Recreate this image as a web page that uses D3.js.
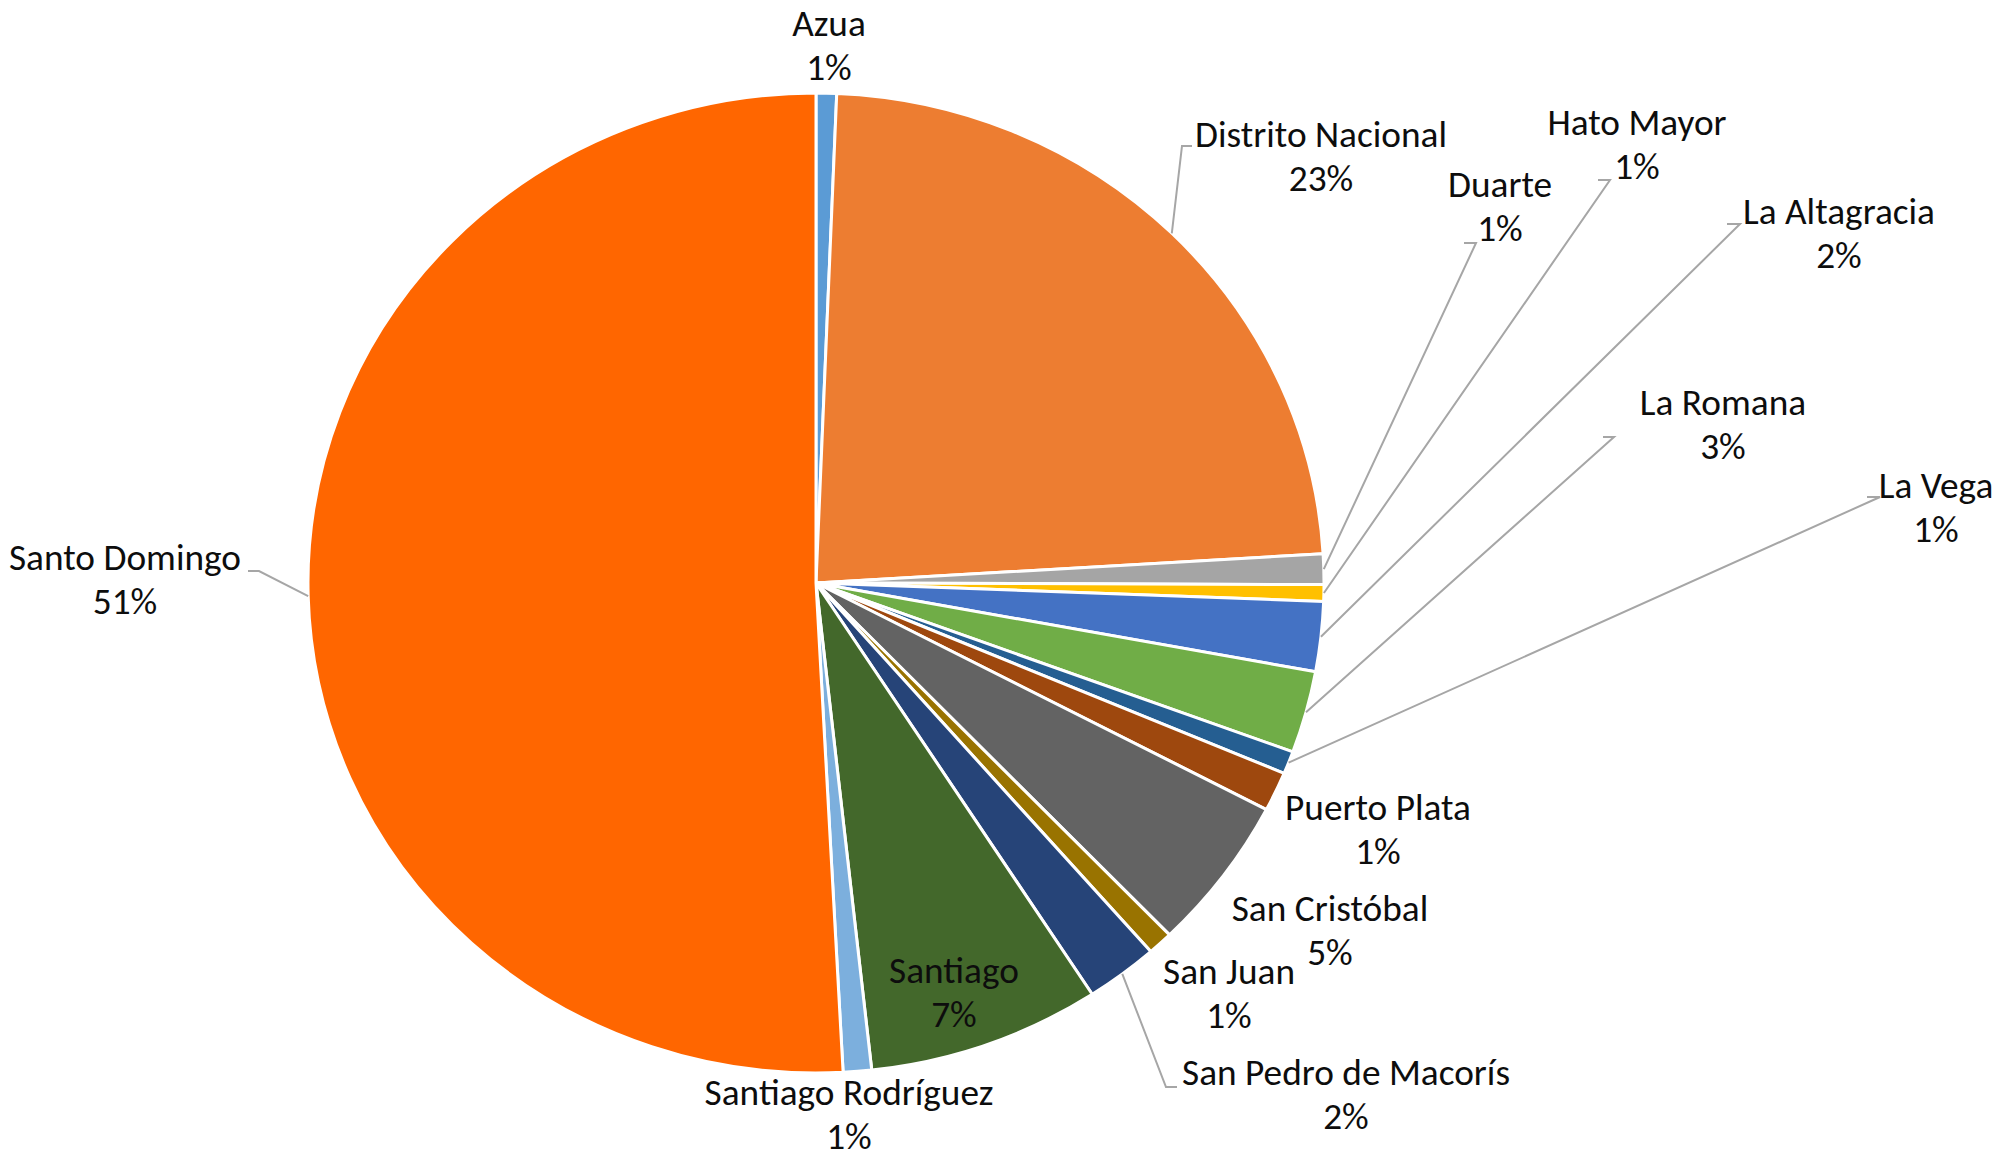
<!DOCTYPE html>
<html>
<head>
<meta charset="utf-8">
<script src="https://cdn.jsdelivr.net/npm/d3@7"></script>
<style>
  html, body { margin: 0; padding: 0; background: #ffffff; }
  svg { display: block; }
  text { font-family: Carlito, Lato, "Open Sans", sans-serif; fill: #0d0d0d; }
</style>
</head>
<body>
<svg id="chart" width="1997" height="1160"></svg>
<script>
// ---- data ----
const categories = ["Azua", "Distrito Nacional", "Duarte", "Hato Mayor", "La Altagracia",
  "La Romana", "La Vega", "Puerto Plata", "San Cristóbal", "San Juan",
  "San Pedro de Macorís", "Santiago", "Santiago Rodríguez", "Santo Domingo"];
const values = [0.65, 23.4, 1.0, 0.55, 2.3, 2.7, 0.75, 1.3, 5.1, 0.8, 2.3, 7.4, 0.9, 50.85];

// ---- styles ----
const colors = ["#5B9BD5", "#ED7D31", "#A5A5A5", "#FFC000", "#4472C4", "#70AD47", "#255E91",
  "#9E480E", "#636363", "#997300", "#264478", "#43682B", "#7CAFDD", "#FF6600"];

// ---- layout (label anchor x, first baseline y, leader elbow/end or null) ----
const labelLayout = [
  { x: 829, y: 36, leader: null },
  { x: 1321, y: 147, leader: [[1182, 146], [1192, 146]] },
  { x: 1500, y: 197, leader: [[1476, 243], [1464, 243]] },
  { x: 1637, y: 135, leader: [[1610, 180], [1598, 180]] },
  { x: 1839, y: 224, leader: [[1740, 224], [1727, 224]] },
  { x: 1723, y: 415, leader: [[1614, 437], [1603, 437]] },
  { x: 1936, y: 498, leader: [[1880, 497], [1867, 497]] },
  { x: 1378, y: 820, leader: null },
  { x: 1330, y: 921, leader: null },
  { x: 1229, y: 984, leader: null },
  { x: 1346, y: 1085, leader: [[1166, 1087], [1177, 1087]] },
  { x: 954, y: 983, leader: null },
  { x: 849, y: 1105, leader: null },
  { x: 125, y: 570, leader: [[259, 571], [248, 571]] }
];

const cx = 816, cy = 583, R = 490, sx = 508 / 490;
const lineGap = 44;
const fontSize = 36;

const svg = d3.select("#chart");
const total = d3.sum(values);

const pie = d3.pie().sort(null).value(d => d);
const arcs = pie(values);
const arc = d3.arc().innerRadius(0).outerRadius(R);

const g = svg.append("g").attr("transform", `translate(${cx},${cy}) scale(${sx},1)`);
g.selectAll("path.slice")
  .data(arcs)
  .join("path")
  .attr("class", "slice")
  .attr("d", arc)
  .attr("fill", (d, i) => colors[i])
  .attr("stroke", "#ffffff")
  .attr("stroke-width", 3)
  .attr("vector-effect", "non-scaling-stroke")
  .attr("stroke-linejoin", "round");

// leader lines
const edgePoint = a => {
  const m = (a.startAngle + a.endAngle) / 2;
  return [cx + sx * R * Math.sin(m), cy - R * Math.cos(m)];
};
const lineGen = d3.line();
arcs.forEach((a, i) => {
  const L = labelLayout[i];
  if (!L.leader) return;
  const pts = [edgePoint(a), ...L.leader];
  svg.append("path")
    .attr("d", lineGen(pts))
    .attr("fill", "none")
    .attr("stroke", "#A6A6A6")
    .attr("stroke-width", 2);
});

// labels
const labels = svg.append("g");
arcs.forEach((a, i) => {
  const L = labelLayout[i];
  const pct = Math.round(values[i] / total * 100) + "%";
  const t = labels.append("text")
    .attr("transform", `translate(${L.x},${L.y}) scale(${sx},1)`)
    .attr("text-anchor", "middle")
    .attr("font-size", fontSize);
  t.append("tspan").attr("x", 0).attr("y", 0).text(categories[i]);
  t.append("tspan").attr("x", 0).attr("y", lineGap).text(pct);
});
</script>
</body>
</html>
